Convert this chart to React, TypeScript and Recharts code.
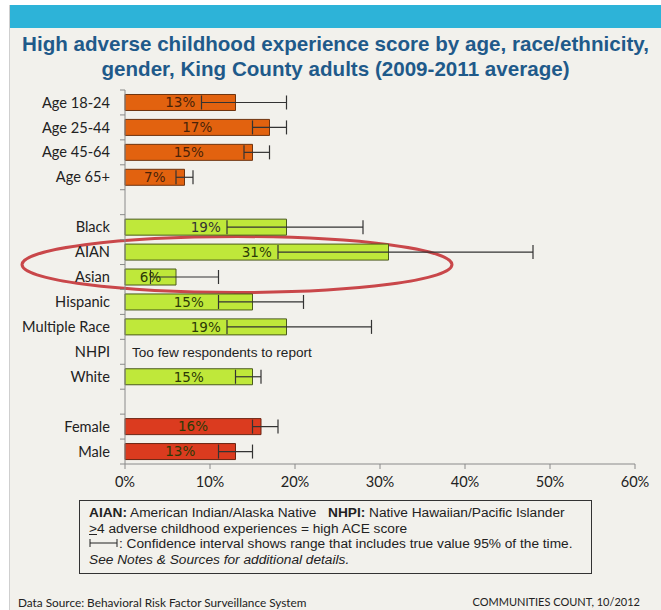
import { BarChart, Bar, XAxis, YAxis, Cell, LabelList, ErrorBar, ReferenceArea } from 'recharts';

// categories, top to bottom (blank rows are spacers between groups)
const categories = ['Age 18-24', 'Age 25-44', 'Age 45-64', 'Age 65+', ' ', 'Black', 'AIAN', 'Asian', 'Hispanic', 'Multiple Race', 'NHPI', 'White', '  ', 'Female', 'Male'];
const groups = ['age', 'age', 'age', 'age', '', 'race', 'race', 'race', 'race', 'race', 'race', 'race', '', 'gender', 'gender'];
// percent with high ACE score
const values = [13, 17, 15, 7, null, 19, 31, 6, 15, 19, null, 15, null, 16, 13];
// 95% confidence interval
const ciLow = [9, 15, 14, 6, null, 12, 18, 3, 11, 12, null, 13, null, 15, 11];
const ciHigh = [19, 19, 17, 8, null, 28, 48, 11, 21, 29, null, 16, null, 18, 15];
const notes: Record<string, string> = { NHPI: 'Too few respondents to report' };
const xTicks = [0, 10, 20, 30, 40, 50, 60];

const groupColors: Record<string, { fill: string; stroke: string; text: string }> = {
  age: { fill: '#E2620F', stroke: '#6e3410', text: '#4a2208' },
  race: { fill: '#BFE83A', stroke: '#4a5a1c', text: '#2c3a06' },
  gender: { fill: '#DB3B1F', stroke: '#6a2412', text: '#7a1a0e' },
};

const data = categories.map((label, i) => ({
  label,
  group: groups[i],
  value: values[i],
  ci: values[i] == null ? null : [values[i]! - ciLow[i]!, ciHigh[i]! - values[i]!],
}));

const PLOT_LEFT = 125;
const PLOT_TOP = 90;
const PLOT_BOTTOM = 464;
const BAND = (PLOT_BOTTOM - PLOT_TOP) / categories.length;

const CategoryTick = (props: any) => {
  const { y, payload, index } = props;
  const label = String(payload.value);
  const note = notes[label.trim()];
  return (
    <g>
      <line x1={PLOT_LEFT - 5} x2={PLOT_LEFT} y1={y - BAND / 2} y2={y - BAND / 2} stroke="#8a8a8a" />
      {index === categories.length - 1 && (
        <line x1={PLOT_LEFT - 5} x2={PLOT_LEFT} y1={y + BAND / 2} y2={y + BAND / 2} stroke="#8a8a8a" />
      )}
      <text x={PLOT_LEFT - 15} y={y} dy="0.35em" textAnchor="end" fontFamily="Lato, sans-serif" fontSize={14.6} fill="#222">
        {label}
      </text>
      {note && (
        <text x={PLOT_LEFT + 7} y={y} dy="0.35em" fontFamily="'Liberation Sans', Arial, sans-serif" fontSize={13.6} fill="#222">
          {note}
        </text>
      )}
    </g>
  );
};

const ValueLabel = (props: any) => {
  const { x, y, width, height, value, index } = props;
  if (value == null || value === '') return null;
  const row = data[index];
  const c = row ? groupColors[row.group] : undefined;
  return (
    <text x={Number(x) + Number(width) / 2} y={Number(y) + Number(height) / 2} dy="0.36em" textAnchor="middle" fontFamily="'DejaVu Sans', Verdana, sans-serif" fontSize={13.5} fill={c ? c.text : '#333'}>
      {value}%
    </text>
  );
};

const Ellipse = (props: any) => {
  const { x, y, height } = props;
  return <ellipse cx={x + 112} cy={y + height / 2} rx={215} ry={28} fill="none" stroke="#C9474A" strokeWidth={3} />;
};

const CiSymbol = () => (
  <svg width={30} height={12} style={{ verticalAlign: '-1px' }}>
    <line x1={1} x2={28} y1={6} y2={6} stroke="#222" />
    <line x1={1} x2={1} y1={2} y2={10} stroke="#222" />
    <line x1={28} x2={28} y1={2} y2={10} stroke="#222" />
  </svg>
);

export default function App() {
  return (
    <div style={{ position: 'relative', width: 661, height: 610, background: '#fff', overflow: 'hidden' }}>
      <style>{'body{margin:0}'}</style>
      <div style={{ position: 'absolute', left: 9, top: 5, right: 0, bottom: 0, background: '#F2F1EC', borderLeft: '1px solid #cfcfcf' }} />
      <div style={{ position: 'absolute', left: 10, top: 5, right: 0, height: 23, background: '#2DB3D8' }} />
      <div
        style={{
          position: 'absolute',
          left: 10,
          right: 0,
          top: 31,
          textAlign: 'center',
          fontFamily: "'Liberation Sans', Arial, sans-serif",
          fontWeight: 'bold',
          fontSize: 20.6,
          lineHeight: '25px',
          color: '#1F5A8A',
        }}
      >
        High adverse childhood experience score by age, race/ethnicity,
        <br />
        gender, King County adults (2009-2011 average)
      </div>

      <div style={{ position: 'absolute', left: 0, top: 0 }}>
        <BarChart
          width={661}
          height={500}
          data={data}
          layout="vertical"
          margin={{ top: PLOT_TOP, right: 26, bottom: 6, left: 10 }}
          barCategoryGap="18%"
        >
          <XAxis
            type="number"
            domain={[0, 60]}
            ticks={xTicks}
            tickFormatter={(v) => `${v}%`}
            axisLine={{ stroke: '#8a8a8a' }}
            tickLine={{ stroke: '#8a8a8a' }}
            tickSize={5}
            tickMargin={8}
            height={30}
            tick={{ fontFamily: 'Lato, sans-serif', fontSize: 14.6, fill: '#222' }}
          />
          <YAxis
            type="category"
            dataKey="label"
            width={115}
            axisLine={{ stroke: '#8a8a8a' }}
            tickLine={false}
            tick={<CategoryTick />}
            interval={0}
          />
          <ReferenceArea x1={0} x2={60} y1="AIAN" y2="Asian" ifOverflow="visible" shape={<Ellipse />} />
          <Bar dataKey="value" isAnimationActive={false} strokeWidth={1}>
            {data.map((d, i) => (
              <Cell key={`cell-${i}`} fill={d.group ? groupColors[d.group].fill : 'none'} stroke={d.group ? groupColors[d.group].stroke : 'none'} />
            ))}
            <LabelList dataKey="value" content={<ValueLabel />} />
            <ErrorBar dataKey="ci" direction="x" width={7} stroke="#333" strokeWidth={1.2} />
          </Bar>
        </BarChart>
      </div>

      <div
        style={{
          position: 'absolute',
          left: 79,
          top: 500,
          width: 498,
          height: 66,
          padding: '4px 4px 2px 9px',
          border: '1px solid #333',
          fontFamily: "'Liberation Sans', Arial, sans-serif",
          fontSize: 13.7,
          lineHeight: '15.7px',
          color: '#222',
        }}
      >
        <div style={{ whiteSpace: 'nowrap' }}>
          <span style={{ display: 'inline-block', width: 239 }}>
            <b>AIAN:</b> American Indian/Alaska Native
          </span>
          <b>NHPI:</b> Native Hawaiian/Pacific Islander
        </div>
        <div style={{ whiteSpace: 'nowrap' }}>
          <u>&gt;</u>4 adverse childhood experiences = high ACE score
        </div>
        <div style={{ whiteSpace: 'nowrap' }}>
          <CiSymbol />: Confidence interval shows range that includes true value 95% of the time.
        </div>
        <div style={{ fontStyle: 'italic', whiteSpace: 'nowrap' }}>See Notes &amp; Sources for additional details.</div>
      </div>

      <div style={{ position: 'absolute', left: 18, top: 595, fontFamily: 'Lato, sans-serif', fontSize: 11.8, color: '#222' }}>
        Data Source: Behavioral Risk Factor Surveillance System
      </div>
      <div style={{ position: 'absolute', right: 21, top: 595, fontFamily: 'Lato, sans-serif', fontSize: 11, color: '#222' }}>
        COMMUNITIES COUNT, 10/2012
      </div>
    </div>
  );
}
